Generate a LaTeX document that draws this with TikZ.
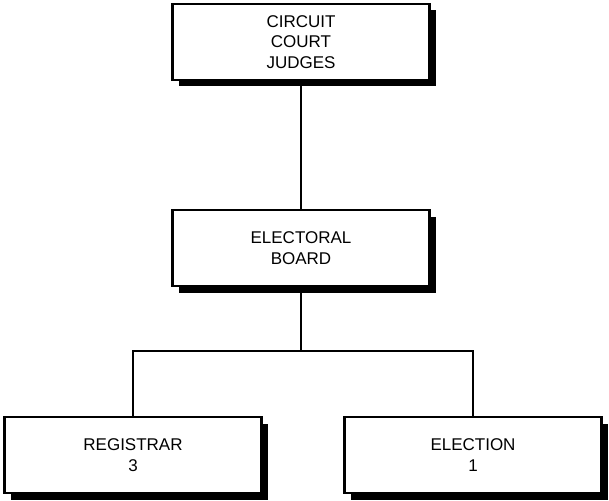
\documentclass[tikz,border=0pt]{standalone}
\usepackage{fontspec}
\setmainfont{Liberation Sans}
\usetikzlibrary{shadows}

\begin{document}
\begin{tikzpicture}[
  x=1pt, y=-1pt,
  every node/.style={font=\fontsize{17}{20.5}\selectfont},
  office/.style={draw, line width=2.8pt, fill=white, align=center,
                 minimum width=257pt, minimum height=76pt, inner sep=0pt,
                 drop shadow={shadow xshift=6.5pt, shadow yshift=-6.5pt,
                              fill=black, opacity=1}},
  link/.style={line width=2.2pt}
]
  \useasboundingbox (0, 0) rectangle (609, 500);

  \node[office] (judges) at (301, 42) {CIRCUIT\\COURT\\JUDGES};
  \node[office] (board) at (301, 248) {ELECTORAL\\BOARD};
  \node[office] (registrar) at (133, 455) {REGISTRAR\\3};
  \node[office] (election) at (473, 455) {ELECTION\\1};
  \coordinate (fork) at (301, 351);

  \draw[link] (judges.south) -- (board.north);
  \draw[link] (board.south) -- (fork);
  \draw[link] (registrar.north) |- (fork) -| (election.north);
\end{tikzpicture}
\end{document}
